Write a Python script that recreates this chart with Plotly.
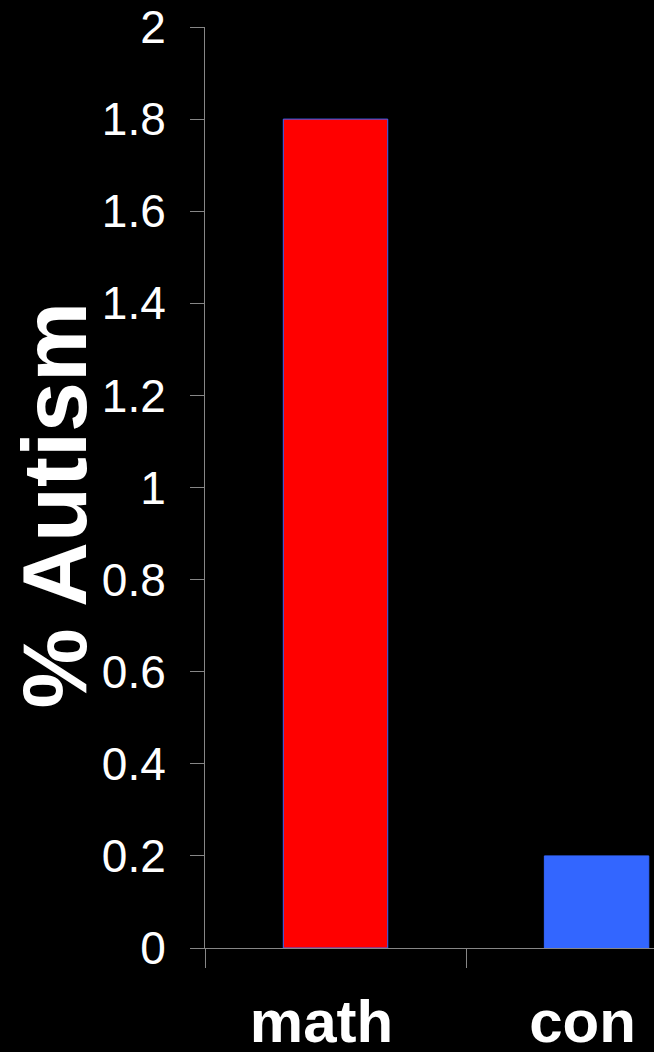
import plotly.graph_objects as go

# dados
grupos = ["math", "con"]
autismo_pct = [1.8, 0.2]
cores = ["#FF0000", "#3366FF"]

FONTE = "Arial, 'Liberation Sans', sans-serif"
CINZA = "#868686"

fig = go.Figure()

fig.add_trace(go.Bar(
    x=grupos,
    y=autismo_pct,
    width=0.4,
    marker=dict(color=cores, line=dict(color="#3366FF", width=1)),
    showlegend=False,
))

fig.update_layout(
    width=654,
    height=1052,
    paper_bgcolor="black",
    plot_bgcolor="black",
    margin=dict(l=205, r=0, t=27, b=104),
    font=dict(family=FONTE, color="white"),
    bargap=0.6,
)

fig.update_xaxes(
    range=[-0.5, 1.22],
    automargin=False,
    showline=True, linecolor=CINZA, linewidth=1,
    showgrid=False, zeroline=False,
    ticks="outside", tickson="boundaries", ticklen=19, tickcolor=CINZA,
    tickfont=dict(size=60, family=FONTE, color="white", weight="bold"),
    ticklabelstandoff=21,
    ticklabelshift=-14,
)

fig.update_yaxes(
    range=[0, 2], dtick=0.2, tick0=0,
    automargin=False,
    showline=True, linecolor=CINZA, linewidth=1,
    showgrid=False, zeroline=False,
    ticks="outside", ticklen=14, tickcolor=CINZA,
    tickfont=dict(size=46, family=FONTE, color="white"),
    ticklabelstandoff=15,
)

# título do eixo y
fig.add_annotation(
    text="<b>% Autism</b>",
    xref="paper", yref="paper",
    x=-0.335, y=0.481,
    xanchor="center", yanchor="middle",
    textangle=-90, showarrow=False,
    font=dict(size=90, family=FONTE, color="white"),
)

# sem margem branca na página
fig.write_html(
    "out.html",
    config={"displayModeBar": False},
    post_script="document.body.style.margin='0';document.body.style.background='black';",
)
